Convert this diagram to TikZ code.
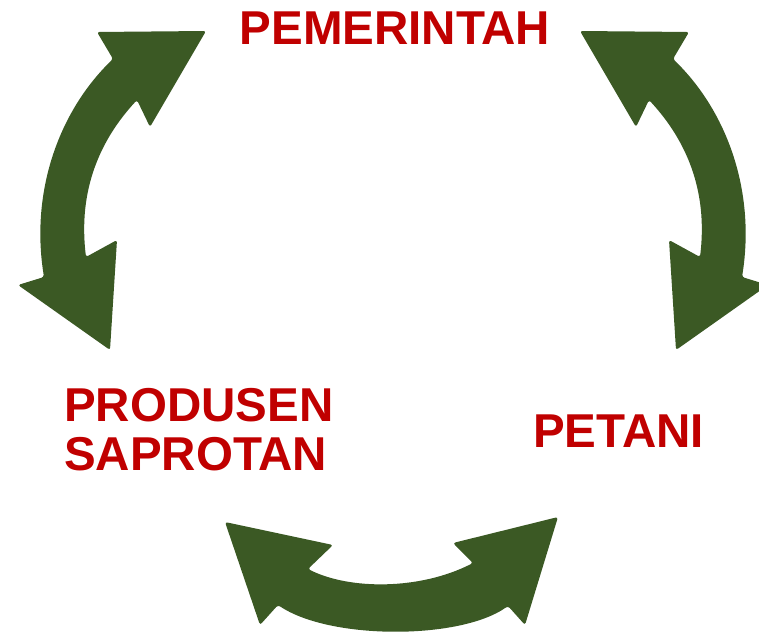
\documentclass[tikz,border=0pt]{standalone}
\usepackage{fontspec}
\setmainfont{Liberation Sans}
\definecolor{arrowgreen}{RGB}{59,89,36}
\definecolor{labelred}{RGB}{192,0,0}
\tikzset{
  arrowfill/.style={fill=arrowgreen, rounded corners=2.5pt},
  label/.style={text=labelred, font=\fontsize{47.5}{49}\selectfont\bfseries, inner sep=0pt}
}
\begin{document}
\begin{tikzpicture}[x=1pt,y=-1pt]
\useasboundingbox (0,0) rectangle (759,634);
\clip (0,0) rectangle (759,634);
% left arrow
\fill[arrowfill] (206,31) -- (97,32) -- (113,59)
  .. controls (60,110) and (30,190) .. (44,277)
  -- (18,285) -- (110,350) -- (117,240) -- (86,257)
  .. controls (78,190) and (100,140) .. (137,100)
  -- (150,127) -- cycle;
% right arrow
\fill[arrowfill] (580,31) -- (689,32) -- (673,59)
  .. controls (726,110) and (756,190) .. (742,277)
  -- (768,285) -- (676,350) -- (669,240) -- (700,257)
  .. controls (708,190) and (686,140) .. (649,100)
  -- (636,127) -- cycle;
% bottom arrow
\fill[arrowfill] (225,522) -- (333,545) -- (308,569)
  .. controls (350,590) and (420,590) .. (473,563)
  -- (453,543) -- (558,517) -- (525,625) -- (508,606)
  .. controls (460,640) and (330,640) .. (278,605)
  -- (260,625) -- cycle;
% labels
\node[label, anchor=base] (pem) at (395,45) {PEMERINTAH};
\node[label, anchor=base west] (pet) at (533,447) {PETANI};
\node[label, anchor=west, align=left] (prod) at (64,430) {PRODUSEN\\SAPROTAN};
\end{tikzpicture}
\end{document}
